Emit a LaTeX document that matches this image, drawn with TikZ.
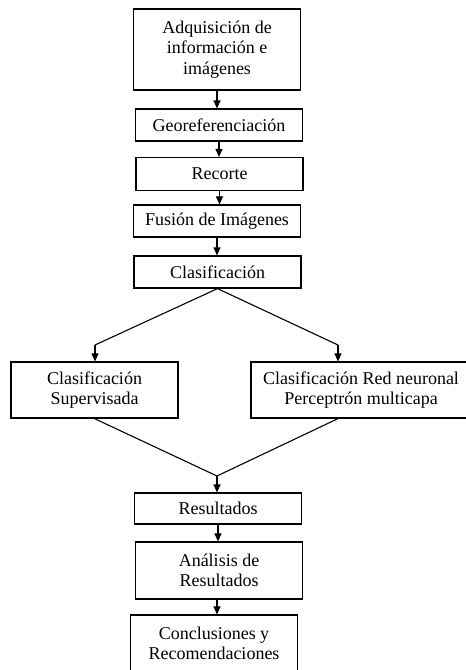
\documentclass[tikz,border=0pt]{standalone}
\usepackage{fontspec}
\setmainfont{Liberation Serif}
\usetikzlibrary{arrows.meta}
\begin{document}
\begin{tikzpicture}[x=1pt,y=-1pt,
  box/.style={draw,line width=1.2pt,align=center,inner sep=0pt,
    minimum width=167pt,font=\fontsize{18}{20.5}\selectfont},
  arr/.style={-{Triangle[length=8pt,width=7pt]},line width=1.1pt}]
\useasboundingbox (0,0) rectangle (466,670);
\clip (0,0) rectangle (466,670);
\node (adq) [box,minimum height=81pt] at (217,49.5) {Adquisición de\\información e\\imágenes};
\node (geo) [box,minimum height=32pt] at (219,125) {Georeferenciación};
\node (rec) [box,minimum height=33pt] at (219.5,174) {Recorte};
\node (fus) [box,minimum height=32pt] at (217,221) {Fusión de Imágenes};
\node (cla) [box,minimum height=32pt] at (217.5,272) {Clasificación};
\node (sup) [box,minimum height=56pt] at (94.5,390) {Clasificación\\Supervisada};
\node (red) [box,minimum width=220pt,minimum height=56pt] at (361,390) {Clasificación Red neuronal\\Perceptrón multicapa};
\node (res) [box,minimum height=31pt] at (218,508.5) {Resultados};
\node (ana) [box,minimum height=57pt] at (219,570.5) {Análisis de\\Resultados};
\node (con) [box,minimum height=57pt] at (214,643.5) {Conclusiones y\\Recomendaciones};
\coordinate (splitL) at (95,345);
\coordinate (splitR) at (338,345);
\coordinate (merge) at (217,476);

\draw[arr] (adq.south) -- (adq.south |- geo.north);
\draw[arr] (geo.south) -- (geo.south |- rec.north);
\draw[arr] (rec.south) -- (rec.south |- fus.north);
\draw[arr] (fus.south) -- (fus.south |- cla.north);

\draw[line width=1.1pt] (cla.south) -- (splitL);
\draw[line width=1.1pt] (cla.south) -- (splitR);
\draw[arr] (splitL) -- (splitL |- sup.north);
\draw[arr] (splitR) -- (splitR |- red.north);

\draw[line width=1.1pt] (sup.south) -- (merge);
\draw[line width=1.1pt] (splitR |- red.south) -- (merge);
\draw[arr] (merge) -- (merge |- res.north);

\draw[arr] (res.south) -- (res.south |- ana.north);
\draw[arr] (ana.south -| merge) -- (merge |- con.north);
\end{tikzpicture}
\end{document}
